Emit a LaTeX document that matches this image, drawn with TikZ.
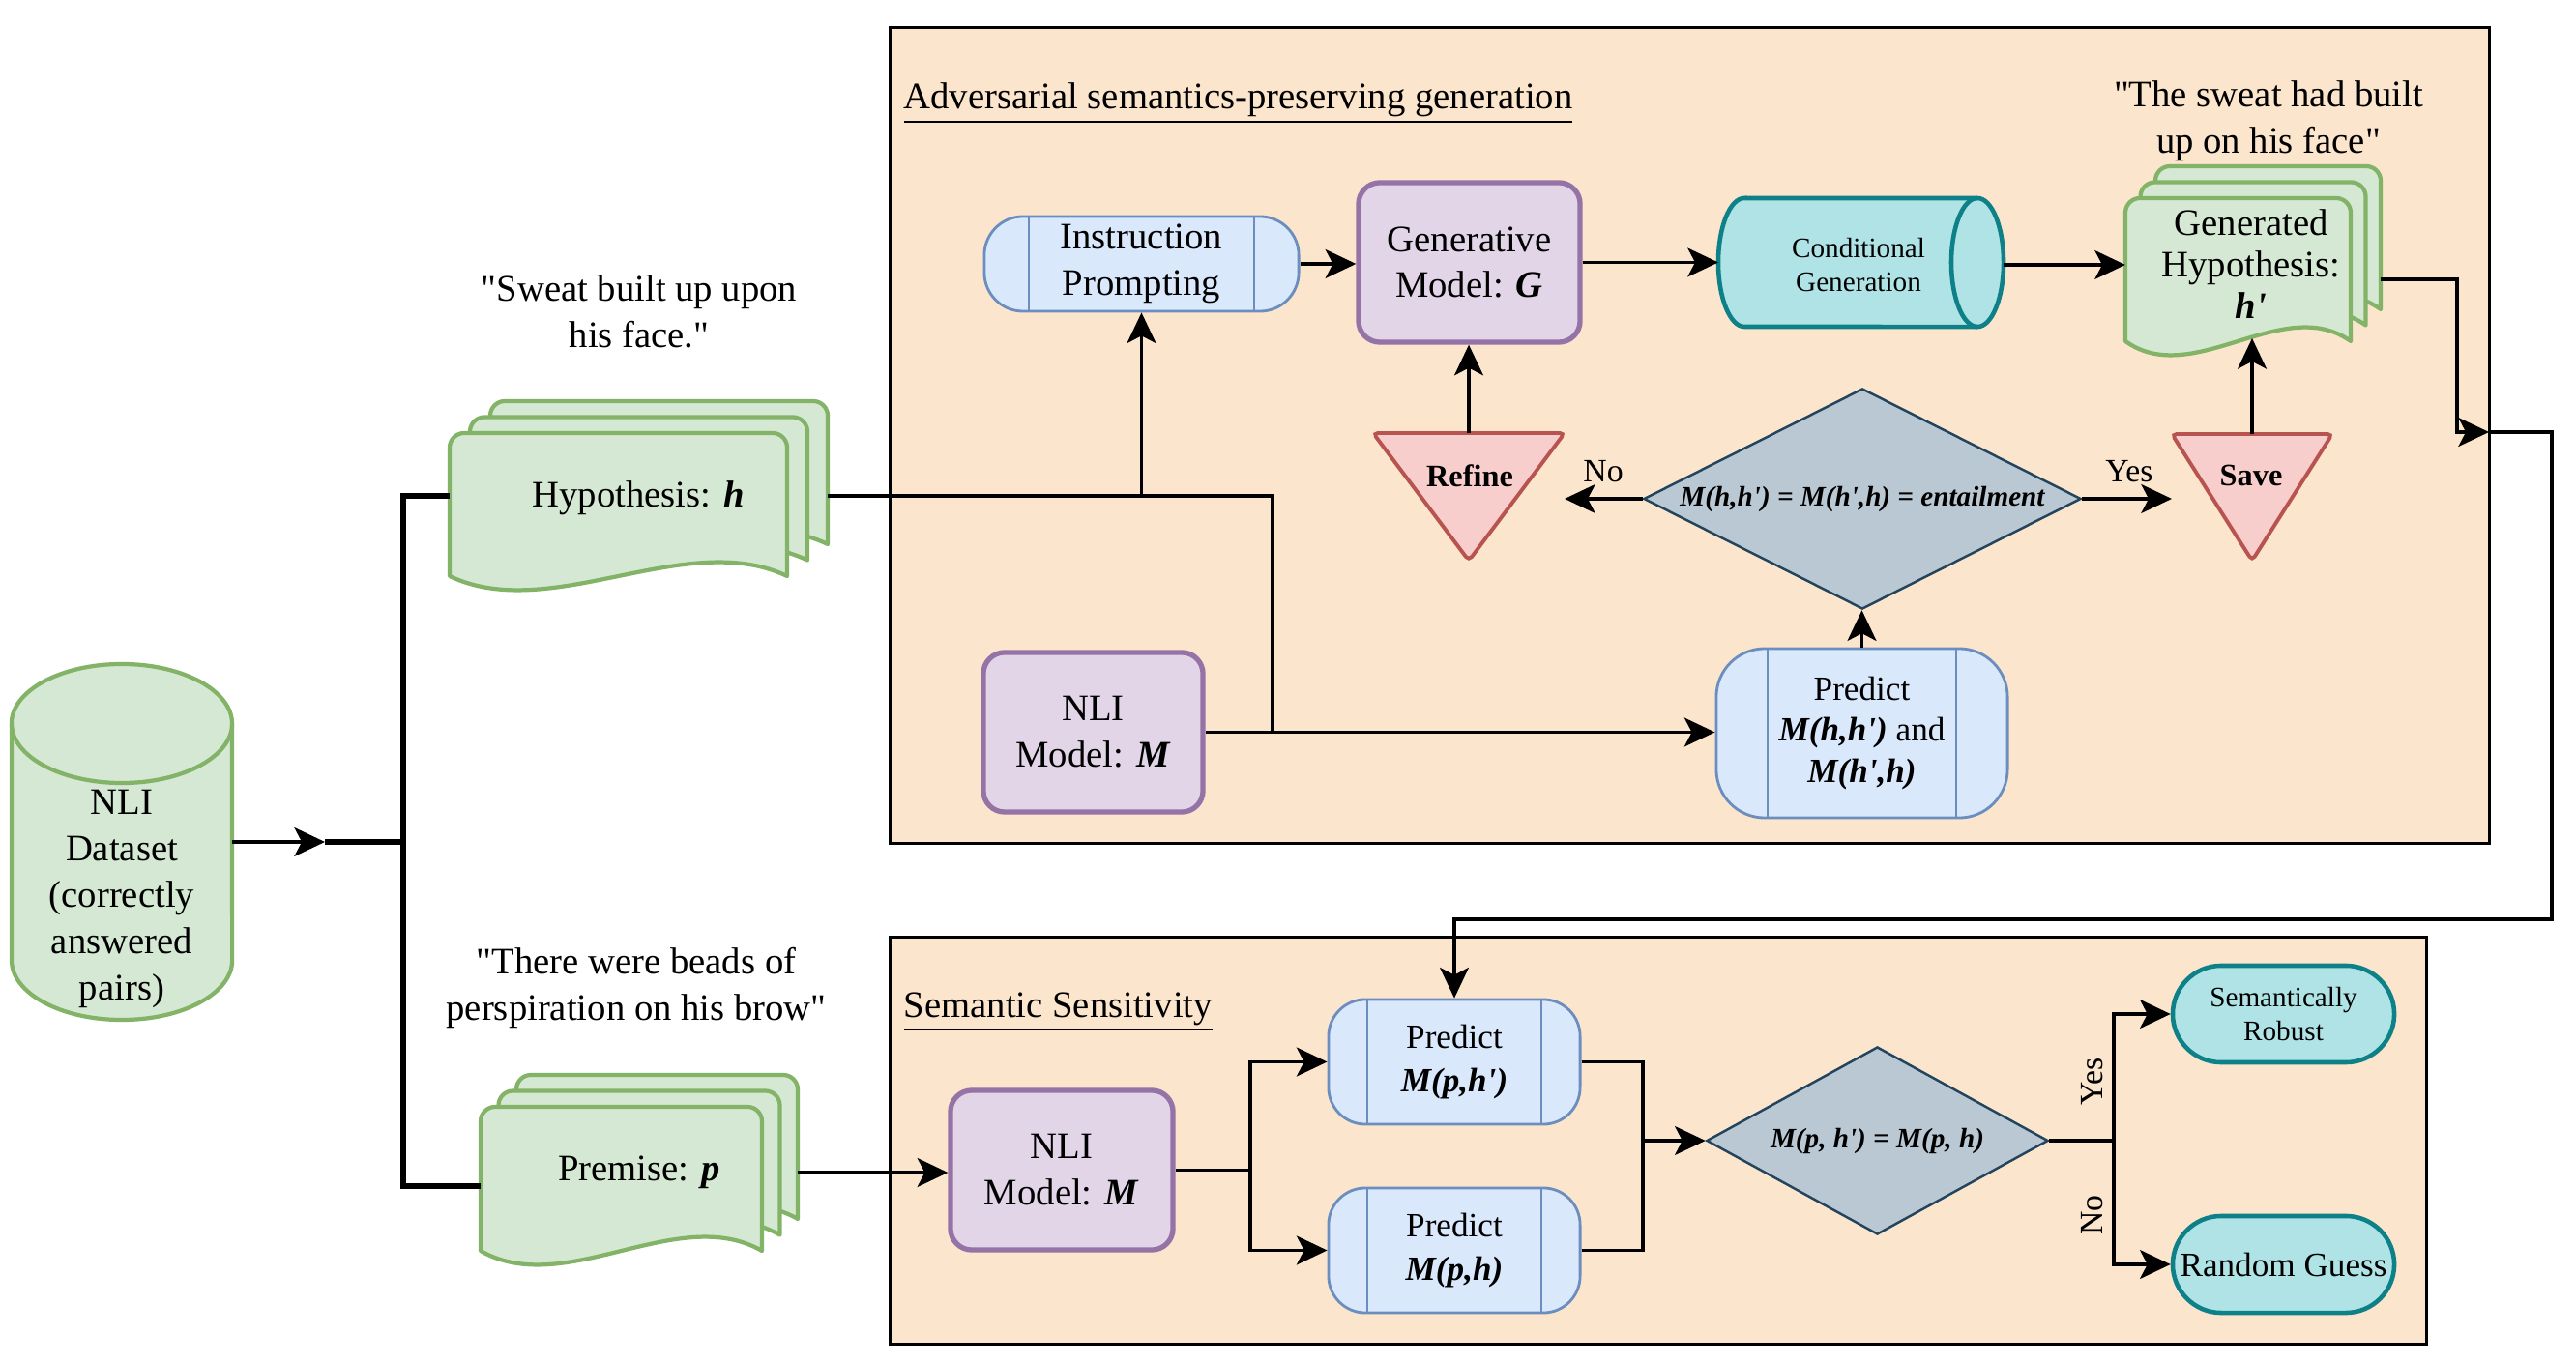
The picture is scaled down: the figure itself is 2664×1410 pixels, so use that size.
\documentclass[tikz,border=0pt]{standalone}
\usepackage{fontspec}
\setmainfont{Liberation Serif}[Ligatures=TeXOff]
\usetikzlibrary{arrows.meta,shapes.geometric,calc}
\definecolor{panelfill}{HTML}{FBE5CD}
\definecolor{gfill}{HTML}{D5E8D4}\definecolor{gline}{HTML}{82B366}
\definecolor{pfill}{HTML}{E1D5E7}\definecolor{pline}{HTML}{9673A6}
\definecolor{bfill}{HTML}{DAE8FC}\definecolor{bline}{HTML}{6C8EBF}
\definecolor{rfill}{HTML}{F8CECC}\definecolor{rline}{HTML}{B85450}
\definecolor{tfill}{HTML}{B0E3E6}\definecolor{tline}{HTML}{0E8088}
\definecolor{dfill}{HTML}{BAC8D3}\definecolor{dline}{HTML}{23445D}
\newcommand\fmain{\fontsize{11}{13.6}\selectfont}
\newcommand\fmid{\fontsize{10}{12.5}\selectfont}
\newcommand\fsmall{\fontsize{8.3}{10.2}\selectfont}
\newcommand\flab{\fontsize{9.6}{11.5}\selectfont}
\newcommand\fbold{\fontsize{9.2}{11}\selectfont\bfseries}
\newcommand\bim[1]{\textbf{\textit{#1}}}
% document shape: left, top, width, height
\newcommand\docsh[4]{%
  \filldraw[gshape] ({#1},{#2+#4}) -- ({#1},{#2+15}) arc[start angle=180,end angle=90,radius=0.15cm]
   -- ({#1+#3-15},{#2}) arc[start angle=90,end angle=0,radius=0.15cm]
   -- ({#1+#3},{#2+#4}) .. controls ({#1+0.7*#3},{#2+#4-50}) and ({#1+0.3*#3},{#2+#4+50}) .. ({#1},{#2+#4}) -- cycle;}
\tikzset{
  panel/.style={draw=black, line width=0.85pt, fill=panelfill, inner sep=0},
  gshape/.style={draw=gline, fill=gfill, line width=1.2pt, line join=round},
  anch/.style={inner sep=0, outer sep=0},
  txt/.style={inner sep=0, align=center, font=\fmain},
  pbox/.style={draw=pline, fill=pfill, line width=1.5pt, rounded corners=0.22cm, inner sep=0, align=center, font=\fmain},
  proc/.style={draw=bline, fill=bfill, line width=0.8pt, inner sep=0, align=center,
    path picture={\draw[bline, line width=0.8pt] ([xshift=#1]path picture bounding box.north west) -- ([xshift=#1]path picture bounding box.south west);
                  \draw[bline, line width=0.8pt] ([xshift=-#1]path picture bounding box.north east) -- ([xshift=-#1]path picture bounding box.south east);}},
  term/.style={draw=tline, fill=tfill, line width=1.3pt, rounded corners=0.5cm, inner sep=0, align=center},
  cyl/.style={draw=tline, fill=tfill, line width=1.3pt},
  tri/.style={draw=rline, fill=rfill, line width=1.1pt, rounded corners=0.05cm},
  dia/.style={shape=diamond, draw=dline, fill=dfill, line width=0.7pt, inner sep=0, font=\fsmall\bfseries\itshape},
  conn/.style={draw=black, line width=0.9pt},
  arr/.style={conn, -{Stealth[length=9pt,width=8.5pt,inset=2.2pt]}},
  thk/.style={draw=black, line width=1.5pt},
}
\begin{document}
\begin{tikzpicture}[x=0.01cm,y=-0.01cm]
\useasboundingbox (0,0) rectangle (2664,1410);
% panels
\node[panel, minimum width=16.53cm, minimum height=8.43cm] (p1) at (1747.5,450.5) {};
\node[panel, minimum width=15.88cm, minimum height=4.20cm] (p2) at (1715,1180) {};
\node[anchor=west, inner sep=0, font=\fmain] (t1) at (934,107) {\underline{Adversarial semantics-preserving generation}};
\node[anchor=west, inner sep=0, font=\fmain] (t2) at (934,1047) {\underline{Semantic Sensitivity}};

% dataset cylinder
\filldraw[gshape] (12,748.5) -- (12,993.5) arc[start angle=180,end angle=360,x radius=1.14cm,y radius=0.615cm]
  -- (240,748.5) arc[start angle=0,end angle=180,x radius=1.14cm,y radius=0.615cm] -- cycle;
\draw[gshape, fill=none] (12,748.5) arc[start angle=180,end angle=360,x radius=1.14cm,y radius=0.615cm];
\node[anch, minimum width=2.28cm, minimum height=3.68cm] (ds) at (126,871) {};
\node[txt] (dstext) at (126,930) {NLI\\Dataset\\(correctly\\answered\\pairs)};

% hypothesis stack
\docsh{507}{415}{349}{148}
\docsh{486}{431.5}{349}{148}
\docsh{465}{448}{349}{148}
\node[anch, minimum width=3.91cm, minimum height=1.96cm] (hyp) at (660.5,513) {};
\node[txt] (hyptext) at (660,515) {Hypothesis: \bim{h}};
\node[txt] (q1) at (661,322) {"Sweat built up upon\\his face."};

% premise stack
\docsh{534}{1112}{291}{149}
\docsh{515.5}{1128.5}{291}{149}
\docsh{497}{1145}{291}{149}
\node[anch, minimum width=3.28cm, minimum height=2.02cm] (prem) at (661,1213) {};
\node[txt] (premtext) at (661,1213) {Premise: \bim{p}};
\node[txt] (q2) at (658,1022) {"There were beads of\\perspiration on his brow"};

% top panel
\node[proc=0.46cm, rounded corners=0.4cm, minimum width=3.25cm, minimum height=0.98cm, font=\fmain] (instr) at (1180.5,273) {Instruction\\Prompting};
\node[pbox, minimum width=2.29cm, minimum height=1.65cm] (gen) at (1519.5,271.5) {Generative\\Model: \bim{G}};
% conditional generation cylinder
\filldraw[cyl] (1804,205) -- (2045,205) arc[start angle=90,end angle=-90,x radius=0.27cm,y radius=0.665cm]
  -- (1804,338) arc[start angle=270,end angle=90,x radius=0.27cm,y radius=0.665cm] -- cycle;
\draw[cyl, fill=none] (2045,205) arc[start angle=90,end angle=270,x radius=0.27cm,y radius=0.665cm];
\node[anch, minimum width=2.95cm, minimum height=1.33cm] (cg) at (1924.5,271.5) {};
\node[txt, font=\fsmall] (cgtext) at (1922,274) {Conditional\\Generation};
% generated hypothesis stack
\docsh{2229}{172}{233}{148}
\docsh{2213.5}{188.5}{233}{148}
\docsh{2198}{205}{233}{148}
\node[anch, minimum width=2.64cm, minimum height=2.04cm] (gh) at (2330,274) {};
\node[txt, font=\fontsize{11}{12.3}\selectfont] (ghtext) at (2328,273) {Generated\\Hypothesis:\\\bim{h'}};
\node[txt] (q3) at (2346,125) {"The sweat had built\\up on his face"};
\coordinate (ghb) at (2329,350);
% refine / save triangles
\node[anch, minimum width=1.98cm, minimum height=1.32cm] (ref) at (1519,514) {};
\filldraw[tri] (ref.north west) -- (ref.north east) -- (ref.south) -- cycle;
\node[txt, font=\fbold] (reftext) at (1520,492) {Refine};
\node[anch, minimum width=1.66cm, minimum height=1.31cm] (sv) at (2329,514.5) {};
\filldraw[tri] (sv.north west) -- (sv.north east) -- (sv.south) -- cycle;
\node[txt, font=\fbold] (svtext) at (2328,492) {Save};
% decision 1
\node[dia, minimum width=4.52cm, minimum height=2.28cm] (d1) at (1926,516) {\makebox[0pt]{M(h,h') = M(h',h) = entailment}};
\node[txt, font=\flab] (nolab1) at (1658,488) {No};
\node[txt, font=\flab] (yeslab1) at (2202,488) {Yes};
% NLI + predict
\node[pbox, minimum width=2.27cm, minimum height=1.65cm] (nli1) at (1130.5,757.5) {NLI\\Model: \bim{M}};
\node[proc=0.53cm, rounded corners=0.5cm, minimum width=3.01cm, minimum height=1.75cm, font=\fontsize{10}{12.1}\selectfont] (pt) at (1925.5,758.5) {Predict\\\bim{M(h,h')} and\\\bim{M(h',h)}};

% bottom panel
\node[pbox, minimum width=2.30cm, minimum height=1.65cm] (nli2) at (1098,1210.5) {NLI\\Model: \bim{M}};
\node[proc=0.4cm, rounded corners=0.38cm, minimum width=2.60cm, minimum height=1.29cm, font=\fontsize{10}{13}\selectfont] (pr1) at (1504,1098.5) {Predict\\\bim{M(p,h')}};
\node[proc=0.4cm, rounded corners=0.38cm, minimum width=2.60cm, minimum height=1.29cm, font=\fontsize{10}{13}\selectfont] (pr2) at (1504,1293.5) {Predict\\\bim{M(p,h)}};
\node[dia, minimum width=3.53cm, minimum height=1.94cm] (d2) at (1941.5,1180) {\makebox[0pt]{M(p, h') = M(p, h)}};
\node[term, minimum width=2.29cm, minimum height=1.0cm, font=\fsmall] (sr) at (2361.5,1049) {Semantically\\Robust};
\node[term, minimum width=2.29cm, minimum height=1.0cm, font=\fmid] (rg) at (2361.5,1308) {Random Guess};
\node[txt, font=\flab, rotate=90] (yeslab2) at (2164,1119) {Yes};
\node[txt, font=\flab, rotate=90] (nolab2) at (2164,1257) {No};

% coordinates
\coordinate (jn) at (336,871);
\coordinate (spine) at (417,871);
\coordinate (hjoin) at (1316,758);
\coordinate (bend1) at (2541,447);
\coordinate (exit) at (2574,447);
\coordinate (bend2) at (2639,447);
\coordinate (bend3) at (1504,951);
\coordinate (fk) at (1293,1210.5);
\coordinate (mg) at (1699,1180);
\coordinate (sp) at (2186,1180);

% connectors left
\draw[arr] (ds.east) -- (jn);
\draw[thk] (jn) -- (spine);
\draw[thk] (hyp.west) -| (spine) |- ([yshift=-0.14cm]prem.west);
\draw[conn] (hyp.east) -| (hjoin);
\draw[arr] (instr.south |- hyp.east) -- (instr.south);
\draw[arr] (nli1.east) -- (nli1.east -| pt.west);
% top flow
\draw[arr] (instr.east) -- (instr.east -| gen.west);
\draw[arr] (gen.east) -- (gen.east -| cg.west);
\draw[arr] (cg.east |- gh.west) -- (gh.west);
\draw[arr] (ref.north) -- (ref.north |- gen.south);
\draw[arr] (d1.west) -- (d1.west -| ref.east);
\draw[arr] (d1.east) -- (d1.east -| sv.west);
\draw[arr] (sv.north) -- (ghb);
\draw[arr] (pt.north) -- (pt.north |- d1.south);
\draw[arr] ([yshift=-0.15cm]gh.east) -| (bend1) -- (exit);
\draw[arr] (exit) -- (bend2) |- (bend3) -- (pr1.north);
% bottom flow
\draw[arr] (prem.east) -- (prem.east -| nli2.west);
\draw[conn] (nli2.east) -- (fk);
\draw[arr] (fk) |- (pr1.west);
\draw[arr] (fk) |- (pr2.west);
\draw[conn] (pr1.east) -| (mg);
\draw[conn] (pr2.east) -| (mg);
\draw[arr] (mg) -- (d2.west);
\draw[conn] (d2.east) -- (sp);
\draw[arr] (sp) |- (sr.west);
\draw[arr] (sp) |- (rg.west);
\end{tikzpicture}
\end{document}
